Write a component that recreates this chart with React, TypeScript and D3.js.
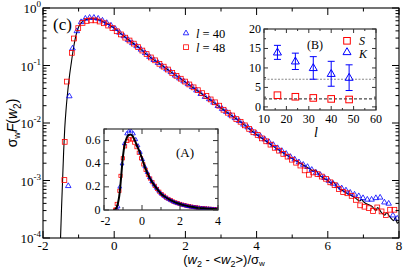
import React from 'react';
import * as d3 from 'd3';

// main panel: sigma_w F(w2) vs scaled width, log y
const curveX = [-1.51, -1.48, -1.45, -1.42, -1.39, -1.35, -1.3, -1.25, -1.2, -1.15, -1.1, -1.05, -1.0, -0.9, -0.8, -0.7, -0.6, -0.5, -0.4, -0.3, -0.15, 0, 0.15, 0.35, 0.5, 0.75, 1, 1.25, 1.5, 1.75, 2, 2.25, 2.5, 2.75, 3, 3.25, 3.5, 3.75, 4, 4.25, 4.5, 4.75, 5, 5.25, 5.5, 5.6, 5.65, 5.75, 6, 6.1, 6.15, 6.25, 6.5, 6.75, 6.9, 6.95, 7, 7.25, 7.35, 7.4, 7.5, 7.6, 7.65, 7.75, 7.85, 7.9, 7.95, 8];
const curveF = [8.9e-5, 3.2e-4, 1.0e-3, 3.2e-3, 7.9e-3, 0.0178, 0.038, 0.0708, 0.117, 0.19, 0.282, 0.38, 0.468, 0.575, 0.625, 0.648, 0.652, 0.64, 0.61, 0.57, 0.513, 0.447, 0.372, 0.295, 0.251, 0.191, 0.141, 0.11, 0.0851, 0.0661, 0.0513, 0.0398, 0.0309, 0.024, 0.0182, 0.0141, 0.011, 8.3e-3, 6.3e-3, 4.9e-3, 3.8e-3, 3.0e-3, 2.4e-3, 1.95e-3, 1.58e-3, 1.45e-3, 1.52e-3, 1.26e-3, 1.0e-3, 8.9e-4, 9.5e-4, 7.9e-4, 6.2e-4, 5.1e-4, 4.4e-4, 4.7e-4, 4.3e-4, 3.5e-4, 3.0e-4, 3.4e-4, 2.8e-4, 2.5e-4, 2.75e-4, 2.3e-4, 2.0e-4, 2.3e-4, 1.8e-4, 1.9e-4];

const l40X = [-1.29, -1.26, -1.17, -1.05, -0.93, -0.81, -0.69, -0.57, -0.45, -0.33, -0.21, -0.09, 0.03, 0.15, 0.27, 0.39, 0.51, 0.63, 0.75, 0.87, 0.99, 1.11, 1.23, 1.35, 1.47, 1.59, 1.71, 1.83, 1.95, 2.07, 2.19, 2.31, 2.43, 2.55, 2.67, 2.79, 2.91, 3.03, 3.15, 3.27, 3.39, 3.51, 3.63, 3.75, 3.87, 3.99, 4.11, 4.23, 4.35, 4.47, 4.59, 4.71, 4.83, 4.95, 5.07, 5.19, 5.31, 5.43, 5.55, 5.67, 5.79, 5.91, 6.03, 6.15, 6.27, 6.39, 6.51, 6.63, 6.75, 6.87, 6.99, 7.11, 7.23, 7.35, 7.47, 7.59, 7.71, 7.83, 7.95];
const l40F = [8.1e-4, 0.0295, 0.2, 0.4, 0.575, 0.66, 0.684, 0.684, 0.66, 0.61, 0.556, 0.5, 0.437, 0.376, 0.327, 0.282, 0.248, 0.219, 0.191, 0.166, 0.143, 0.126, 0.112, 0.0977, 0.0871, 0.0776, 0.0676, 0.0603, 0.0537, 0.0479, 0.0427, 0.0372, 0.0324, 0.0288, 0.0263, 0.0229, 0.02, 0.0178, 0.0158, 0.0138, 0.0123, 0.011, 9.5e-3, 8.5e-3, 7.4e-3, 6.6e-3, 5.9e-3, 5.25e-3, 4.7e-3, 4.2e-3, 3.7e-3, 3.3e-3, 2.95e-3, 2.6e-3, 2.35e-3, 2.1e-3, 1.9e-3, 1.74e-3, 1.55e-3, 1.38e-3, 1.26e-3, 1.12e-3, 1.0e-3, 8.9e-4, 8.1e-4, 7.4e-4, 6.8e-4, 6.2e-4, 5.75e-4, 5.4e-4, 5.0e-4, 4.7e-4, 4.7e-4, 5.0e-4, 5.1e-4, 4.2e-4, 4.0e-4, 2.5e-4, 2.2e-4];

const l48X = [-1.4, -1.39, -1.33, -1.19, -1.13, -1.01, -0.89, -0.77, -0.65, -0.53, -0.41, -0.29, -0.17, -0.05, 0.07, 0.19, 0.31, 0.43, 0.55, 0.67, 0.79, 0.91, 1.03, 1.15, 1.27, 1.39, 1.51, 1.63, 1.75, 1.87, 1.99, 2.11, 2.23, 2.35, 2.47, 2.59, 2.71, 2.83, 2.95, 3.07, 3.19, 3.31, 3.43, 3.55, 3.67, 3.79, 3.91, 4.03, 4.15, 4.27, 4.39, 4.51, 4.63, 4.75, 4.87, 4.99, 5.11, 5.23, 5.35, 5.47, 5.59, 5.71, 5.83, 5.95, 6.07, 6.19, 6.31, 6.43, 6.55, 6.67, 6.79, 6.91, 7.03, 7.15, 7.27, 7.39, 7.51, 7.63, 7.75, 7.87];
const l48F = [1.02e-3, 4.7e-3, 0.0525, 0.166, 0.295, 0.447, 0.55, 0.596, 0.61, 0.61, 0.582, 0.543, 0.495, 0.447, 0.394, 0.347, 0.305, 0.272, 0.24, 0.209, 0.182, 0.158, 0.138, 0.123, 0.107, 0.0955, 0.0851, 0.0741, 0.0661, 0.0589, 0.0525, 0.0468, 0.0417, 0.0372, 0.0331, 0.0295, 0.0257, 0.0229, 0.02, 0.017, 0.0151, 0.0135, 0.0117, 0.0105, 9.1e-3, 7.9e-3, 6.9e-3, 6.2e-3, 5.4e-3, 4.8e-3, 4.2e-3, 3.7e-3, 3.3e-3, 2.9e-3, 2.6e-3, 2.3e-3, 2.04e-3, 1.82e-3, 1.5e-3, 1.26e-3, 1.38e-3, 1.29e-3, 1.17e-3, 1.07e-3, 9.3e-4, 8.3e-4, 7.1e-4, 6.3e-4, 6.0e-4, 5.4e-4, 4.6e-4, 3.7e-4, 3.5e-4, 3.3e-4, 2.95e-4, 3.4e-4, 2.9e-4, 2.5e-4, 3.1e-4, 3.1e-4];

const mainXTicks = [-2, 0, 2, 4, 6, 8];
const mainDecades = [-4, -3, -2, -1, 0];

// inset (A): same data, linear scale
const insetAXTicks = [-2, 0, 2, 4];
const insetAYTicks = [0, 0.2, 0.4, 0.6];

// inset (B): skewness and kurtosis vs l
const sizesL = [16, 24, 32, 40, 48];
const skewS = [3.0, 2.6, 2.3, 2.05, 1.9];
const kurtK = [14.0, 11.7, 10.0, 8.5, 7.5];
const kurtErr = [1.8, 2.1, 2.9, 3.2, 3.3];
const refK = 7.1;
const refS = 2.05;
const insetBXTicks = [10, 20, 30, 40, 50, 60];
const insetBYTicks = [0, 5, 10, 15, 20];

const BLUE = '#0000ff';
const RED = '#ff0000';
const SERIF = 'Liberation Serif, Times New Roman, serif';
const SANS = 'Liberation Sans, Arial, sans-serif';

function tri(cx: number, cy: number, s: number) {
  const h = s * 0.866;
  return `M${cx},${cy - h * 0.62}L${cx + s / 2},${cy + h * 0.38}L${cx - s / 2},${cy + h * 0.38}Z`;
}

export default function App() {
  // main
  const x = d3.scaleLinear().domain([-2, 8]).range([43, 399]);
  const y = d3.scaleLog().domain([1e-4, 1]).range([238, 8]);
  const line = d3
    .line<number>()
    .x((d, i) => x(curveX[i]))
    .y((d) => y(d))
    .curve(d3.curveMonotoneX);

  // inset A
  const xa = d3.scaleLinear().domain([-2, 4]).range([104, 218]);
  const ya = d3.scaleLinear().domain([0, 0.7]).range([210, 129]);
  const lineA = d3
    .line<number>()
    .x((d, i) => xa(curveX[i]))
    .y((d) => ya(d))
    .curve(d3.curveMonotoneX);

  // inset B
  const xb = d3.scaleLinear().domain([10, 60]).range([264, 376]);
  const yb = d3.scaleLinear().domain([-0.8, 20]).range([110, 29]);

  const [x0, x1] = x.range();
  const [yBot, yTop] = y.range();
  const minorX = d3.range(-2, 8.01, 1);
  const minorY: number[] = [];
  mainDecades.slice(0, -1).forEach((e) => {
    for (let m = 2; m <= 9; m++) minorY.push(m * Math.pow(10, e));
  });

  return (
    <svg width={403} height={272} style={{ position: 'absolute', left: 0, top: 0, background: '#fff' }}>
      <defs>
        <clipPath id="clipMain">
          <rect x={x0} y={yTop} width={x1 - x0} height={yBot - yTop} />
        </clipPath>
        <clipPath id="clipA">
          <rect x={104} y={129} width={114} height={81} />
        </clipPath>
      </defs>

      {/* main data */}
      <g clipPath="url(#clipMain)">
        <path d={line(curveF) || ''} fill="none" stroke="#000" strokeWidth={1.1} />
        {l40F.map((v, i) => (
          <path key={'b' + i} d={tri(x(l40X[i]), y(v), 5.5)} fill="none" stroke={BLUE} strokeWidth={0.8} />
        ))}
        {l48F.map((v, i) => (
          <rect key={'r' + i} x={x(l48X[i]) - 2.4} y={y(v) - 2.4} width={4.8} height={4.8} fill="none" stroke={RED} strokeWidth={0.8} />
        ))}
      </g>

      {/* main frame and ticks */}
      <rect x={x0} y={yTop} width={x1 - x0} height={yBot - yTop} fill="none" stroke="#000" strokeWidth={1.1} />
      {minorX.map((t) => {
        const len = t % 2 === 0 ? 7 : 3.5;
        return (
          <g key={'xt' + t} stroke="#000" strokeWidth={1}>
            <line x1={x(t)} x2={x(t)} y1={yBot} y2={yBot - len} />
            <line x1={x(t)} x2={x(t)} y1={yTop} y2={yTop + len} />
          </g>
        );
      })}
      {mainDecades.map((e) => (
        <g key={'yt' + e} stroke="#000" strokeWidth={1}>
          <line x1={x0} x2={x0 + 7} y1={y(Math.pow(10, e))} y2={y(Math.pow(10, e))} />
          <line x1={x1} x2={x1 - 7} y1={y(Math.pow(10, e))} y2={y(Math.pow(10, e))} />
        </g>
      ))}
      {minorY.map((v, i) => (
        <g key={'ym' + i} stroke="#000" strokeWidth={1}>
          <line x1={x0} x2={x0 + 3.5} y1={y(v)} y2={y(v)} />
          <line x1={x1} x2={x1 - 3.5} y1={y(v)} y2={y(v)} />
        </g>
      ))}
      {mainXTicks.map((t) => (
        <text key={'xl' + t} x={x(t)} y={250} textAnchor="middle" fontFamily={SERIF} fontSize={13}>
          {t < 0 ? '-' + Math.abs(t) : t}
        </text>
      ))}
      {mainDecades.map((e) => (
        <text key={'yl' + e} x={41} y={y(Math.pow(10, e)) + 5} textAnchor="end" fontFamily={SERIF} fontSize={13}>
          10
          <tspan fontSize={9} dy={-6}>
            {e}
          </tspan>
        </text>
      ))}

      {/* axis titles */}
      <text x={224} y={264} textAnchor="middle" fontFamily={SANS} fontSize={13}>
        (<tspan fontStyle="italic">w</tspan>
        <tspan fontSize={9} dy={3}>2</tspan>
        <tspan dy={-3}> - &lt;</tspan>
        <tspan fontStyle="italic">w</tspan>
        <tspan fontSize={9} dy={3}>2</tspan>
        <tspan dy={-3}>&gt;)/σ</tspan>
        <tspan fontSize={8} dy={2}>w</tspan>
      </text>
      <text transform="translate(17,123) rotate(-90)" textAnchor="middle" fontFamily={SANS} fontSize={14}>
        σ<tspan fontSize={9} dy={3}>w</tspan>
        <tspan dy={-3} fontStyle="italic">F</tspan>(<tspan fontStyle="italic">w</tspan>
        <tspan fontSize={10} dy={4}>2</tspan>
        <tspan dy={-4}>)</tspan>
      </text>

      <text x={53} y={30} fontFamily={SERIF} fontSize={17}>
        (c)
      </text>

      {/* legend */}
      <path d={tri(186, 33, 5.5)} fill="none" stroke={BLUE} strokeWidth={0.8} />
      <text x={196} y={37.5} fontFamily={SERIF} fontSize={12.5}>
        <tspan fontStyle="italic">l</tspan> = 40
      </text>
      <rect x={183.6} y={44.8} width={4.8} height={4.8} fill="none" stroke={RED} strokeWidth={0.8} />
      <text x={196} y={51.5} fontFamily={SERIF} fontSize={12.5}>
        <tspan fontStyle="italic">l</tspan> = 48
      </text>

      {/* inset A */}
      <rect x={104} y={129} width={114} height={81} fill="#fff" />
      <g clipPath="url(#clipA)">
        {l48F.map((v, i) => (
          <rect key={'ar' + i} x={xa(l48X[i]) - 1.6} y={ya(v) - 1.6} width={3.2} height={3.2} fill="none" stroke={RED} strokeWidth={0.8} />
        ))}
        {l40F.map((v, i) => (
          <path key={'ab' + i} d={tri(xa(l40X[i]), ya(v), 3.8)} fill="none" stroke={BLUE} strokeWidth={0.8} />
        ))}
        <path d={lineA(curveF) || ''} fill="none" stroke="#000" strokeWidth={2} />
      </g>
      <rect x={104} y={129} width={114} height={81} fill="none" stroke="#333" strokeWidth={1.2} />
      {d3.range(-2, 4.01, 1).map((t) => {
        const len = t % 2 === 0 ? 5 : 3;
        return (
          <g key={'axt' + t} stroke="#333" strokeWidth={1}>
            <line x1={xa(t)} x2={xa(t)} y1={210} y2={210 - len} />
            <line x1={xa(t)} x2={xa(t)} y1={129} y2={129 + len} />
          </g>
        );
      })}
      {d3.range(0, 0.71, 0.1).map((t) => {
        const len = Math.round(t * 10) % 2 === 0 ? 5 : 3;
        return (
          <g key={'ayt' + t} stroke="#333" strokeWidth={1}>
            <line x1={104} x2={104 + len} y1={ya(t)} y2={ya(t)} />
            <line x1={218} x2={218 - len} y1={ya(t)} y2={ya(t)} />
          </g>
        );
      })}
      {insetAXTicks.map((t) => (
        <text key={'axl' + t} x={xa(t) + (t < 0 ? 1.5 : 0)} y={224.5} textAnchor="middle" fontFamily={SERIF} fontSize={12}>
          {t < 0 ? '-' + Math.abs(t) : t}
        </text>
      ))}
      {insetAYTicks.map((t) => (
        <text key={'ayl' + t} x={100.5} y={ya(t) + 3.5} textAnchor="end" fontFamily={SERIF} fontSize={12}>
          {t === 0 ? '0' : t.toFixed(1)}
        </text>
      ))}
      <text x={185} y={157} textAnchor="middle" fontFamily={SERIF} fontSize={13}>
        (A)
      </text>

      {/* inset B */}
      <rect x={264} y={29} width={112} height={81} fill="#fff" />
      <line x1={264} x2={376} y1={yb(refK)} y2={yb(refK)} stroke="#888" strokeWidth={1} strokeDasharray="2,1.5" />
      <line x1={264} x2={376} y1={yb(refS)} y2={yb(refS)} stroke="#000" strokeWidth={0.9} strokeDasharray="3,2" />
      {sizesL.map((l, i) => (
        <g key={'k' + l} stroke={BLUE} strokeWidth={1} fill="none">
          <line x1={xb(l)} x2={xb(l)} y1={yb(kurtK[i] - kurtErr[i])} y2={yb(kurtK[i] + kurtErr[i])} />
          <line x1={xb(l) - 3.5} x2={xb(l) + 3.5} y1={yb(kurtK[i] - kurtErr[i])} y2={yb(kurtK[i] - kurtErr[i])} />
          <line x1={xb(l) - 3.5} x2={xb(l) + 3.5} y1={yb(kurtK[i] + kurtErr[i])} y2={yb(kurtK[i] + kurtErr[i])} />
          <path d={tri(xb(l), yb(kurtK[i]), 8)} fill="none" />
        </g>
      ))}
      {sizesL.map((l, i) => (
        <rect key={'s' + l} x={xb(l) - 3.3} y={yb(skewS[i]) - 3.3} width={6.6} height={6.6} fill="none" stroke={RED} strokeWidth={1} />
      ))}
      <rect x={264} y={29} width={112} height={81} fill="none" stroke="#333" strokeWidth={1.2} />
      {d3.range(10, 60.1, 5).map((t) => {
        const len = t % 10 === 0 ? 4 : 2;
        return (
          <g key={'bxt' + t} stroke="#333" strokeWidth={1}>
            <line x1={xb(t)} x2={xb(t)} y1={110} y2={110 - len} />
            <line x1={xb(t)} x2={xb(t)} y1={29} y2={29 + len} />
          </g>
        );
      })}
      {d3.range(0, 20.1, 2.5).map((t) => {
        const len = t % 5 === 0 ? 4 : 2;
        return (
          <g key={'byt' + t} stroke="#333" strokeWidth={1}>
            <line x1={264} x2={264 + len} y1={yb(t)} y2={yb(t)} />
            <line x1={376} x2={376 - len} y1={yb(t)} y2={yb(t)} />
          </g>
        );
      })}
      {insetBXTicks.map((t) => (
        <text key={'bxl' + t} x={xb(t)} y={123} textAnchor="middle" fontFamily={SERIF} fontSize={12}>
          {t}
        </text>
      ))}
      {insetBYTicks.map((t) => (
        <text key={'byl' + t} x={261} y={yb(t) + 4} textAnchor="end" fontFamily={SERIF} fontSize={12}>
          {t}
        </text>
      ))}
      <text x={316} y={137} textAnchor="middle" fontFamily={SERIF} fontSize={14} fontStyle="italic">
        l
      </text>
      <text x={315} y={49} textAnchor="middle" fontFamily={SERIF} fontSize={12}>
        (B)
      </text>
      <rect x={343.7} y={37.5} width={6.6} height={6.6} fill="none" stroke={RED} strokeWidth={1} />
      <text x={359} y={45} fontFamily={SERIF} fontSize={12} fontStyle="italic">
        S
      </text>
      <path d={tri(347, 52, 8)} fill="none" stroke={BLUE} strokeWidth={1} />
      <text x={359} y={58} fontFamily={SERIF} fontSize={12} fontStyle="italic">
        K
      </text>
    </svg>
  );
}
